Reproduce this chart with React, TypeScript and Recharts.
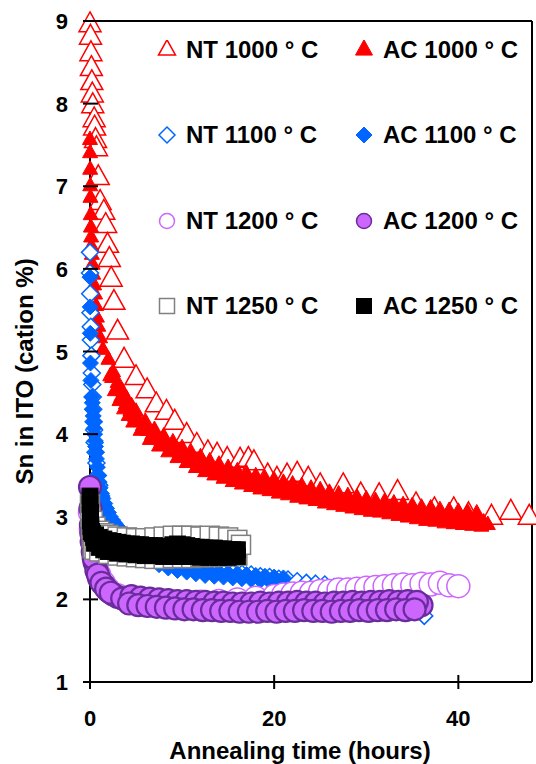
import {
  Label,
  Legend,
  ReferenceLine,
  Scatter,
  ScatterChart,
  XAxis,
  YAxis,
} from "recharts";

type Pt = [number, number];

// [annealing time (h), Sn (cation %)]
const nt1000: Pt[] = [
  [0, 8.95], [0.05, 8.8], [0.1, 8.6], [0.15, 8.42], [0.2, 8.25], [0.25, 8.1],
  [0.3, 7.97], [0.45, 7.8], [0.5, 7.7], [0.6, 7.55], [0.7, 7.45], [0.9, 7.1],
  [1.1, 6.8], [1.5, 6.68], [1.7, 6.52], [1.9, 6.28], [2.1, 6.11], [2.3, 5.87],
  [2.6, 5.59], [3.0, 5.23], [3.7, 4.89], [5.0, 4.68], [6.2, 4.52], [7.2, 4.35],
  [8.3, 4.26], [9.2, 4.14], [10.5, 3.98], [11.6, 3.86], [12.8, 3.77], [13.8, 3.74],
  [14.9, 3.69], [16.3, 3.68], [17.2, 3.69], [17.8, 3.65], [19.3, 3.49], [20.3, 3.45],
  [21.4, 3.49], [22.5, 3.51], [23.7, 3.45], [25, 3.37], [27.5, 3.37], [29.4, 3.26],
  [31.4, 3.25], [33.4, 3.29], [35.4, 3.14], [37.4, 3.08], [39.5, 3.08], [41.1, 3.02],
  [43.6, 2.99], [45.7, 3.05], [47.7, 2.99],
];

const ac1000: Pt[] = [
  [0, 7.56], [0.01, 7.4], [0.02, 7.2], [0.03, 7.0], [0.05, 6.86], [0.08, 6.65],
  [0.1, 6.5], [0.12, 6.38], [0.15, 6.27], [0.2, 6.17], [0.28, 6.05], [0.35, 5.93],
  [0.45, 5.8], [0.55, 5.69], [0.65, 5.55], [0.75, 5.41], [0.9, 5.3], [1.1, 5.16], [1.4, 5.02],
  [2, 4.9], [2.5, 4.75], [3, 4.62], [3.5, 4.52], [4, 4.42], [4.5, 4.34], [5, 4.27],
  [6, 4.15], [7, 4.05], [8, 3.97], [9, 3.9], [10, 3.83], [11, 3.77], [12, 3.72],
  [13, 3.67], [14, 3.63], [15, 3.59], [16, 3.55], [17, 3.52], [18, 3.49], [19, 3.46],
  [20, 3.44], [21, 3.41], [22, 3.39], [23, 3.37], [24, 3.34], [25, 3.32], [26, 3.29],
  [27, 3.27], [28, 3.25], [29, 3.23], [30, 3.21], [31, 3.19], [32, 3.18], [33, 3.16],
  [34, 3.14], [35, 3.13], [36, 3.11], [37, 3.1], [38, 3.08], [39, 3.07], [40, 3.06],
  [41, 3.05], [42, 3.04],
  [2.4, 4.68], [2.9, 4.55], [3.4, 4.45], [3.9, 4.36], [4.4, 4.28], [4.9, 4.2], [5.25, 4.16],
  [5.75, 4.1], [6.25, 4.04], [6.75, 3.99], [7.25, 3.95], [7.75, 3.91], [8.25, 3.87],
  [8.75, 3.84], [9.25, 3.8], [9.75, 3.77], [10.25, 3.74], [10.75, 3.71], [11.25, 3.68],
  [11.75, 3.66], [12.25, 3.63], [12.75, 3.61], [13.25, 3.58], [13.75, 3.56], [14.25, 3.54],
  [14.75, 3.52], [15.25, 3.5], [15.75, 3.48], [16.25, 3.46], [16.75, 3.45], [17.25, 3.43],
  [17.75, 3.42], [18.25, 3.4], [18.75, 3.39], [19.25, 3.37], [19.75, 3.36], [20.25, 3.35],
  [20.75, 3.33], [21.25, 3.32], [21.75, 3.31], [22.25, 3.3], [22.75, 3.28], [23.25, 3.27],
  [23.75, 3.26], [24.25, 3.25], [24.75, 3.23], [25.25, 3.22], [25.75, 3.21], [26.25, 3.2],
  [26.75, 3.18], [27.25, 3.17], [27.75, 3.16], [28.25, 3.15], [28.75, 3.14], [29.25, 3.13],
  [29.75, 3.12], [30.25, 3.11], [30.75, 3.1], [31.25, 3.1], [31.75, 3.09], [32.25, 3.08],
  [32.75, 3.07], [33.25, 3.06], [33.75, 3.05], [34.25, 3.04], [34.75, 3.03], [35.25, 3.02],
  [35.75, 3.02], [36.25, 3.01], [36.75, 3.0], [37.25, 2.99], [37.75, 2.99], [38.25, 2.98],
  [38.75, 2.97], [39.25, 2.97], [39.75, 2.96], [40.25, 2.96], [40.75, 2.95], [41.25, 2.95],
  [41.75, 2.94], [42.25, 2.94], [42.75, 2.93],
  [2.2, 4.7], [2.7, 4.52], [3.2, 4.4], [3.7, 4.3], [4.2, 4.22], [4.7, 4.14], [5.5, 4.04],
  [6.5, 3.93], [7.5, 3.85], [8.5, 3.78], [9.5, 3.71], [10.5, 3.65], [11.5, 3.59],
  [12.5, 3.54], [13.5, 3.5], [14.5, 3.46], [15.5, 3.42], [16.5, 3.39], [17.5, 3.36],
  [18.5, 3.33], [19.5, 3.31], [20.5, 3.28], [21.5, 3.26], [22.5, 3.23], [23.5, 3.21],
  [24.5, 3.19], [25.5, 3.16], [26.5, 3.14], [27.5, 3.12], [28.5, 3.1], [29.5, 3.08],
  [30.5, 3.06], [31.5, 3.05], [32.5, 3.03], [33.5, 3.01], [34.5, 2.99], [35.5, 2.97],
  [36.5, 2.95], [37.5, 2.94], [38.5, 2.92], [39.5, 2.91], [40.5, 2.9], [41.5, 2.89],
  [42.5, 2.88], [43.2, 2.9],
];

const nt1100: Pt[] = [
  [0, 6.2], [0, 5.95], [0.02, 5.7], [0.05, 5.47], [0.08, 5.3], [0.1, 5.14], [0.15, 4.95],
  [0.2, 4.74], [0.25, 4.6], [0.3, 4.45], [0.35, 4.3], [0.4, 4.15], [0.45, 4.05], [0.5, 3.9],
  [0.6, 3.78], [0.7, 3.65], [0.85, 3.5], [1.0, 3.38], [1.2, 3.25], [1.5, 3.12], [1.9, 3.0],
  [2.4, 2.9], [3, 2.8], [3.7, 2.72], [4.5, 2.65], [5.5, 2.58], [6.5, 2.52], [7.5, 2.48],
  [8.5, 2.45], [9.5, 2.42], [10.5, 2.4], [11.5, 2.38], [12.5, 2.36], [13.5, 2.34],
  [14.5, 2.33], [15.5, 2.32], [16.5, 2.31], [17.5, 2.3], [18.5, 2.28], [19.5, 2.27],
  [20.5, 2.25], [21.5, 2.24], [22.5, 2.22], [23.5, 2.2], [24.5, 2.19], [25.5, 2.18],
  [26.5, 2.15], [28, 2.13], [30, 2.1], [32, 2.05], [34, 1.98], [35, 1.92], [36.3, 1.8],
];

const ac1100: Pt[] = [
  [0, 5.9], [0.02, 5.54], [0.03, 5.22], [0.05, 4.86], [0.1, 4.65], [0.2, 4.45], [0.3, 4.3],
  [0.4, 4.15], [0.5, 4.0], [0.6, 3.85], [0.7, 3.7], [0.9, 3.5], [1.1, 3.35], [1.4, 3.22],
  [1.8, 3.1], [2.2, 3.0], [2.7, 2.92], [3.3, 2.84], [4, 2.77], [5, 2.68], [6, 2.6],
  [7, 2.53], [8, 2.47], [9, 2.43], [10, 2.4], [11, 2.38], [12, 2.36], [13, 2.34],
  [14, 2.33], [15, 2.32], [16, 2.31], [17, 2.3], [18, 2.29], [19, 2.28], [20, 2.27],
  [21, 2.26],
  [0.25, 4.38], [0.35, 4.22], [0.45, 4.07], [0.55, 3.92], [0.65, 3.78], [0.8, 3.6],
  [1.0, 3.42], [1.25, 3.28], [1.6, 3.16], [2.0, 3.05], [2.45, 2.96], [3.0, 2.88], [3.6, 2.8],
  [4.5, 2.66], [5.5, 2.55], [6.5, 2.48], [7.5, 2.42], [8.5, 2.38], [9.5, 2.35], [10.5, 2.33],
  [11.5, 2.31], [12.5, 2.29], [13.5, 2.28], [14.5, 2.27], [15.5, 2.26], [16.5, 2.25],
  [17.5, 2.24], [18.5, 2.23], [19.5, 2.22], [20.5, 2.21],
];

const nt1200: Pt[] = [
  [0, 3.05], [0.1, 2.85], [0.2, 2.7], [0.4, 2.55], [0.7, 2.4], [1, 2.3], [1.5, 2.2],
  [2, 2.12], [3, 2.05], [4, 2.0], [5, 1.98], [6, 1.97], [8, 1.96], [10, 1.96], [12, 1.97],
  [14, 1.98], [16, 2.0], [18, 2.02], [20, 2.04], [21, 2.06], [22, 2.07], [23, 2.08],
  [24, 2.08], [25, 2.1], [26, 2.1], [27, 2.12], [28, 2.12], [29, 2.13], [30, 2.14],
  [31, 2.15], [32, 2.16], [33, 2.17], [34, 2.18], [35, 2.17], [36, 2.19], [37, 2.18],
  [38, 2.2], [39, 2.17], [40, 2.16],
];

const ac1200: Pt[] = [
  [0, 3.36], [0.05, 3.1], [0.1, 2.9], [0.2, 2.7], [0.3, 2.58], [0.5, 2.45], [0.7, 2.35],
  [1, 2.25], [1.5, 2.17], [2, 2.1], [2.5, 2.06], [3, 2.03], [4, 2.0], [5, 1.98], [6, 1.97],
  [7, 1.96], [8, 1.95], [9, 1.94], [10, 1.93], [11, 1.93], [12, 1.92], [13, 1.92], [14, 1.91],
  [15, 1.91], [16, 1.9], [17, 1.9], [18, 1.9], [19, 1.91], [20, 1.9], [21, 1.91],
  [22, 1.91], [23, 1.92], [24, 1.91], [25, 1.91], [26, 1.9], [27, 1.91], [28, 1.91],
  [29, 1.92], [30, 1.91], [31, 1.92], [32, 1.92], [33, 1.93], [34, 1.92], [35, 1.93], [36, 1.93],
  [0.15, 2.8], [0.4, 2.5], [0.85, 2.3], [1.25, 2.2], [1.75, 2.13], [2.25, 2.08], [3.5, 2.01],
  [4.5, 2.04], [5.5, 2.02], [6.5, 2.01], [7.5, 2.0], [8.5, 1.99], [9.5, 1.98], [10.5, 1.98],
  [11.5, 1.97], [12.5, 1.97], [13.5, 1.96], [14.5, 1.96], [15.5, 1.95], [16.5, 1.95],
  [17.5, 1.95], [18.5, 1.96], [19.5, 1.95], [20.5, 1.96], [21.5, 1.96], [22.5, 1.97],
  [23.5, 1.96], [24.5, 1.96], [25.5, 1.95], [26.5, 1.96], [27.5, 1.96], [28.5, 1.97],
  [29.5, 1.96], [30.5, 1.97], [31.5, 1.97], [32.5, 1.98], [33.5, 1.97], [34.5, 1.98],
  [35.5, 1.97],
  [4.25, 1.95], [5.25, 1.93], [6.25, 1.92], [7.25, 1.91], [8.25, 1.9], [9.25, 1.89],
  [10.25, 1.88], [11.25, 1.88], [12.25, 1.87], [13.25, 1.87], [14.25, 1.86], [15.25, 1.86],
  [16.25, 1.85], [17.25, 1.85], [18.25, 1.85], [19.25, 1.86], [20.25, 1.85], [21.25, 1.86],
  [22.25, 1.86], [23.25, 1.87], [24.25, 1.86], [25.25, 1.86], [26.25, 1.85], [27.25, 1.86],
  [28.25, 1.86], [29.25, 1.87], [30.25, 1.86], [31.25, 1.87], [32.25, 1.87], [33.25, 1.88],
  [34.25, 1.87], [35.25, 1.88],
];

const nt1250: Pt[] = [
  [0, 3.15], [0.05, 3.0], [0.1, 2.85], [0.2, 2.75], [0.3, 2.62], [0.5, 2.6], [1, 2.58],
  [2, 2.55], [3, 2.53], [4, 2.52], [5, 2.51], [6, 2.5], [7, 2.49], [8, 2.49], [9, 2.5],
  [10, 2.5], [11, 2.5], [12, 2.51], [13, 2.51], [14, 2.52], [15, 2.52], [16, 2.53],
  [0.3, 2.95], [0.6, 2.88], [1, 2.83], [1.5, 2.8], [2, 2.78], [3, 2.76], [4, 2.75],
  [5, 2.74], [6, 2.74], [7, 2.75], [8, 2.76], [9, 2.77], [10, 2.77], [11, 2.77],
  [12, 2.76], [13, 2.77], [14, 2.76], [15, 2.75], [16, 2.72], [16.4, 2.66],
];

const ac1250: Pt[] = [
  [0, 3.25], [0, 3.15], [0.05, 3.05], [0.05, 2.95], [0.1, 2.88], [0.15, 2.82], [0.25, 2.8],
  [0.4, 2.75], [0.6, 2.78], [1, 2.75], [1.5, 2.73], [2, 2.71], [2.5, 2.7], [3, 2.69],
  [3.5, 2.68], [4, 2.67], [4.5, 2.67], [5, 2.66], [5.5, 2.66], [6, 2.65], [6.5, 2.65],
  [7, 2.65], [7.5, 2.64], [8, 2.64], [8.5, 2.64], [9, 2.66], [9.5, 2.67], [10, 2.66],
  [10.5, 2.65], [11, 2.64], [11.5, 2.63], [12, 2.63], [12.5, 2.62], [13, 2.62],
  [13.5, 2.62], [14, 2.61], [14.5, 2.61], [15, 2.6], [15.5, 2.6], [16, 2.6],
  [0.5, 2.68], [1, 2.63], [1.5, 2.6], [2, 2.58], [3, 2.56], [4, 2.55], [5, 2.54],
  [6, 2.53], [7, 2.53], [8, 2.52], [9, 2.52], [10, 2.52], [11, 2.52], [12, 2.51],
  [13, 2.51], [14, 2.51], [15, 2.51], [16, 2.52],
];

const xTicks = [0, 20, 40];
const yTicks = [1, 2, 3, 4, 5, 6, 7, 8, 9];

const FONT = "'Liberation Sans', Arial, Helvetica, sans-serif";

type Kind = "triangle" | "diamond" | "circle" | "square";

type Series = {
  name: string;
  data: Pt[];
  kind: Kind;
  size: number;
  legendSize: number;
  fill: string;
  stroke: string;
  sw: number;
};

const series: Series[] = [
  { name: "NT 1000 ° C", data: nt1000, kind: "triangle", size: 22, legendSize: 17, fill: "#ffffff", stroke: "#ff0000", sw: 1.5 },
  { name: "AC 1000 ° C", data: ac1000, kind: "triangle", size: 15, legendSize: 17, fill: "#ff0000", stroke: "#ff0000", sw: 1 },
  { name: "NT 1100 ° C", data: nt1100, kind: "diamond", size: 17, legendSize: 16, fill: "#ffffff", stroke: "#0066ff", sw: 1.5 },
  { name: "AC 1100 ° C", data: ac1100, kind: "diamond", size: 16, legendSize: 16, fill: "#0066ff", stroke: "#0066ff", sw: 1 },
  { name: "NT 1200 ° C", data: nt1200, kind: "circle", size: 23, legendSize: 15, fill: "#ffffff", stroke: "#cc66ff", sw: 1.5 },
  { name: "AC 1200 ° C", data: ac1200, kind: "circle", size: 22, legendSize: 15, fill: "#cc66ff", stroke: "#6a2c9c", sw: 2.2 },
  { name: "NT 1250 ° C", data: nt1250, kind: "square", size: 19, legendSize: 15, fill: "#ffffff", stroke: "#808080", sw: 1.5 },
  { name: "AC 1250 ° C", data: ac1250, kind: "square", size: 16, legendSize: 15, fill: "#000000", stroke: "#000000", sw: 1 },
];

function Mark({ kind, cx, cy, size, fill, stroke, sw }: {
  kind: Kind; cx: number; cy: number; size: number; fill: string; stroke: string; sw: number;
}) {
  const h = size / 2;
  if (kind === "triangle") {
    const th = size * 0.9;
    const pts = `${cx},${cy - (th * 2) / 3} ${cx + h},${cy + th / 3} ${cx - h},${cy + th / 3}`;
    return <polygon points={pts} fill={fill} stroke={stroke} strokeWidth={sw} />;
  }
  if (kind === "diamond") {
    const pts = `${cx},${cy - h} ${cx + h},${cy} ${cx},${cy + h} ${cx - h},${cy}`;
    return <polygon points={pts} fill={fill} stroke={stroke} strokeWidth={sw} />;
  }
  if (kind === "circle") {
    return <circle cx={cx} cy={cy} r={h} fill={fill} stroke={stroke} strokeWidth={sw} />;
  }
  return <rect x={cx - h} y={cy - h} width={size} height={size} fill={fill} stroke={stroke} strokeWidth={sw} />;
}

const YTick = (p: any) => {
  const ax = p.x + 22; // tickSize 8 + tickMargin 14
  return (
    <g>
      <line x1={ax - 7} x2={ax + 8} y1={p.y} y2={p.y} stroke="#000" strokeWidth={2} />
      <text x={p.x} y={p.y + 8} textAnchor="end" fontFamily={FONT} fontWeight="bold" fontSize={22} fill="#000">
        {p.payload.value}
      </text>
    </g>
  );
};

const XTick = (p: any) => {
  const ay = p.y - 28; // tickSize 8 + tickMargin 20
  return (
    <g>
      <line x1={p.x} x2={p.x} y1={ay - 7} y2={ay + 7} stroke="#000" strokeWidth={2} />
      <text x={p.x} y={p.y + 16} textAnchor="middle" fontFamily={FONT} fontWeight="bold" fontSize={22} fill="#000">
        {p.payload.value}
      </text>
    </g>
  );
};

const LegendBox = () => (
  <div style={{ display: "grid", gridTemplateColumns: "197px 197px", gridAutoRows: "85.5px" }}>
    {series.map((s) => (
      <div key={s.name} style={{ display: "flex", alignItems: "center" }}>
        <svg width={20} height={20} style={{ flex: "none" }}>
          <Mark kind={s.kind} cx={10} cy={10} size={s.legendSize} fill={s.fill} stroke={s.stroke} sw={Math.min(s.sw, 1.5)} />
        </svg>
        <span
          style={{
            marginLeft: 9,
            fontFamily: FONT,
            fontWeight: "bold",
            fontSize: 24,
            color: "#000",
            whiteSpace: "nowrap",
          }}
        >
          {s.name}
        </span>
      </div>
    ))}
  </div>
);

export default function App() {
  return (
    <div style={{ position: "absolute", left: 0, top: 0, width: 536, height: 764, background: "#fff" }}>
      <ScatterChart width={536} height={764} margin={{ top: 21, right: 4, bottom: 0, left: 0 }}>
        <XAxis
          type="number"
          dataKey="t"
          domain={[0, 48]}
          ticks={xTicks}
          height={82}
          tickSize={8}
          tickMargin={20}
          tickLine={false}
          tick={XTick}
          axisLine={{ stroke: "#000", strokeWidth: 2 }}
        >
          <Label
            content={(props: any) => {
              const vb = props.viewBox;
              return (
                <text
                  x={vb.x + vb.width / 2 - 11}
                  y={vb.y + vb.height - 5}
                  textAnchor="middle"
                  fontFamily={FONT}
                  fontWeight="bold"
                  fontSize={24}
                  fill="#000"
                >
                  Annealing time (hours)
                </text>
              );
            }}
          />
        </XAxis>
        <YAxis
          type="number"
          dataKey="v"
          domain={[1, 9]}
          ticks={yTicks}
          width={90}
          tickSize={8}
          tickMargin={14}
          tickLine={false}
          tick={YTick}
          axisLine={{ stroke: "#000", strokeWidth: 2 }}
        >
          <Label
            content={(props: any) => {
              const vb = props.viewBox;
              const x = vb.x + 33;
              const y = vb.y + vb.height / 2 + 20;
              return (
                <text
                  x={x}
                  y={y}
                  transform={`rotate(-90, ${x}, ${y})`}
                  textAnchor="middle"
                  fontFamily={FONT}
                  fontWeight="bold"
                  fontSize={24}
                  fill="#000"
                >
                  Sn in ITO (cation %)
                </text>
              );
            }}
          />
        </YAxis>
        <ReferenceLine y={9} stroke="#000" strokeWidth={2} />
        <ReferenceLine x={48} stroke="#000" strokeWidth={2} />
        {series.map((s) => (
          <Scatter
            key={s.name}
            name={s.name}
            data={s.data.map(([t, v]) => ({ t, v }))}
            isAnimationActive={false}
            shape={(p: any) => (
              <Mark kind={s.kind} cx={p.cx} cy={p.cy} size={s.size} fill={s.fill} stroke={s.stroke} sw={s.sw} />
            )}
          />
        ))}
        <Legend
          layout="vertical"
          align="center"
          verticalAlign="middle"
          content={LegendBox}
          wrapperStyle={{ position: "absolute", left: 157, top: 7, width: 394, height: "auto" }}
        />
      </ScatterChart>
    </div>
  );
}
